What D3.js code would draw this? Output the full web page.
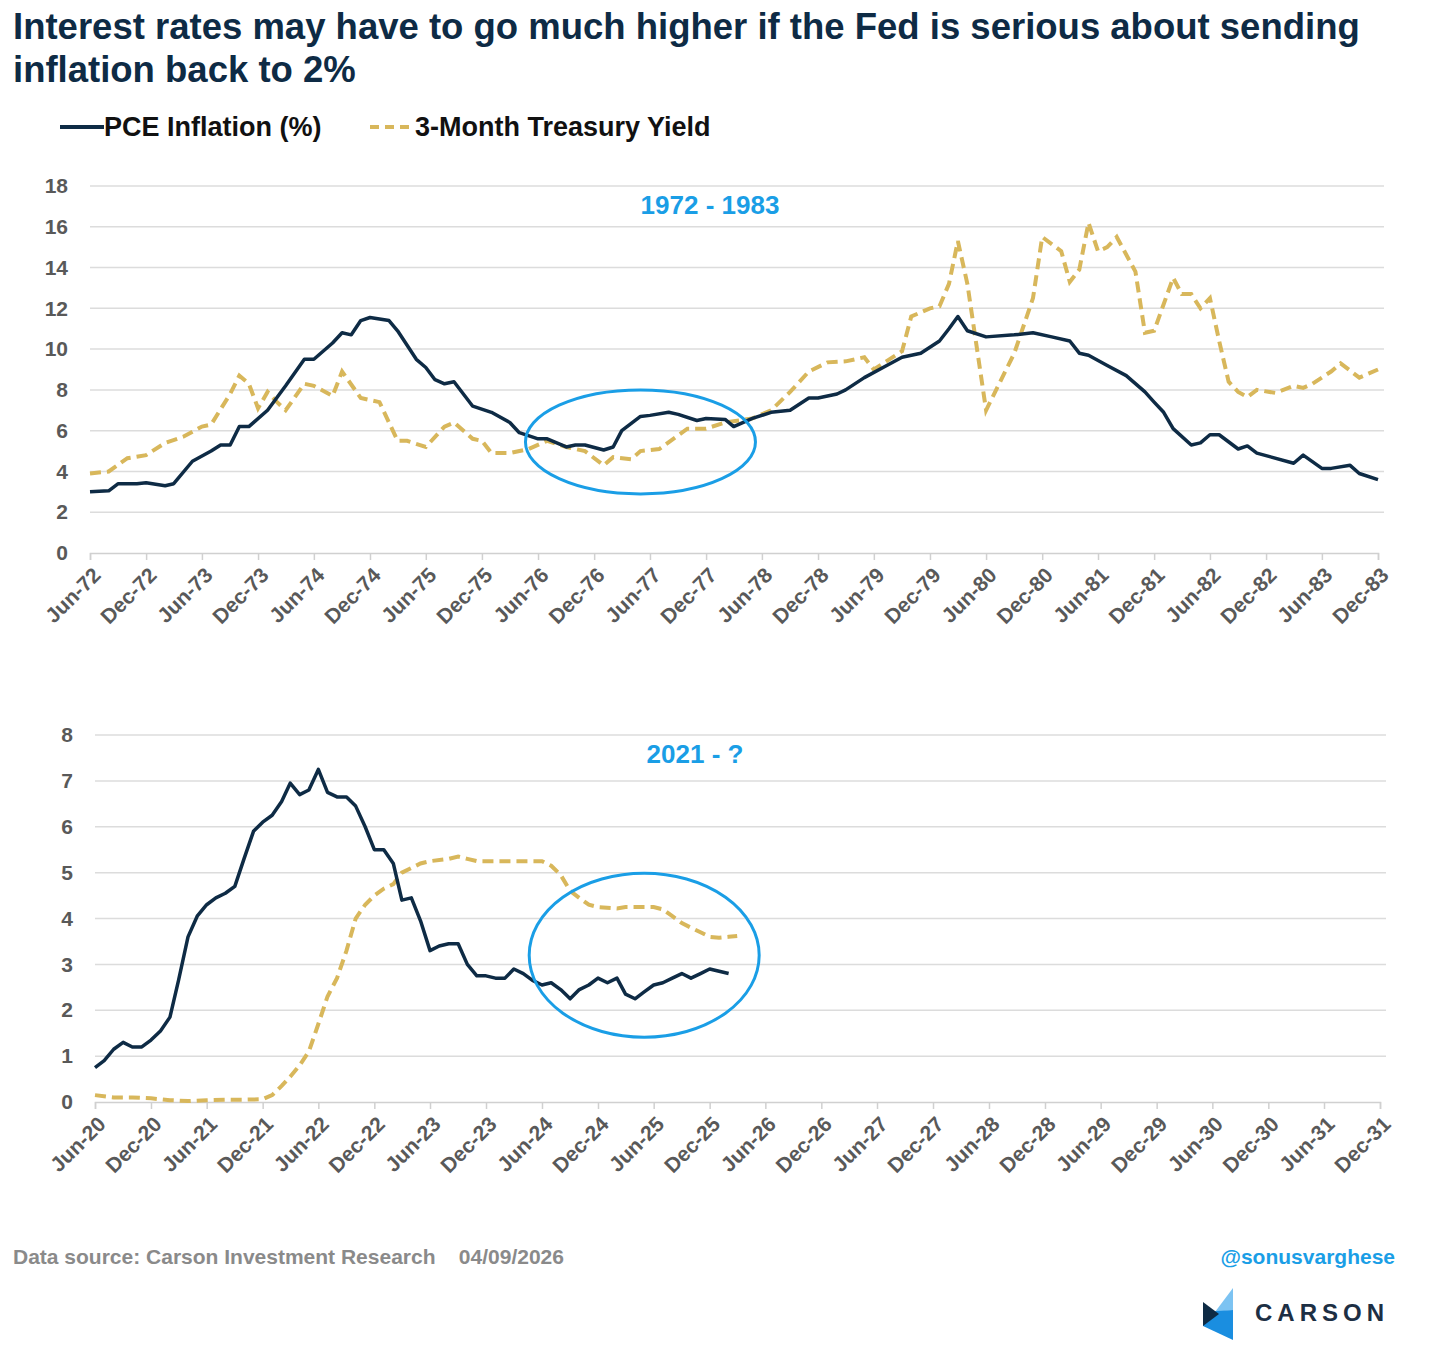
<!DOCTYPE html>
<html lang="en">
<head>
<meta charset="UTF-8">
<title>rates</title>
<style>
  body { margin: 0; background: #fff; font-family: Arial, "Liberation Sans", sans-serif; }
  .tick text { font-size: 21px; font-weight: bold; fill: #595959; }
  .grid line { stroke: #dcdcdc; stroke-width: 1.5; }
</style>
</head>
<body>
<svg id="chart" width="1430" height="1371"></svg>
<script src="https://d3js.org/d3.v7.min.js"></script>
<script>
// ---- data: 1972-1983 ----
const pceTop = [
  ['1972-06',3.0],['1972-08',3.05],['1972-09',3.4],['1972-11',3.4],['1972-12',3.45],['1973-02',3.3],['1973-03',3.4],
  ['1973-05',4.5],['1973-07',5.0],['1973-08',5.3],['1973-09',5.3],['1973-10',6.2],['1973-11',6.2],['1974-01',7.0],
  ['1974-03',8.2],['1974-05',9.5],['1974-06',9.5],['1974-08',10.3],['1974-09',10.8],['1974-10',10.7],['1974-11',11.4],
  ['1974-12',11.55],['1975-02',11.4],['1975-03',10.9],['1975-05',9.5],['1975-06',9.1],['1975-07',8.5],['1975-08',8.3],
  ['1975-09',8.4],['1975-11',7.2],['1976-01',6.9],['1976-03',6.4],['1976-04',5.9],['1976-06',5.6],['1976-07',5.6],
  ['1976-09',5.2],['1976-10',5.3],['1976-11',5.3],['1977-01',5.05],['1977-02',5.2],['1977-03',6.0],['1977-05',6.7],
  ['1977-06',6.75],['1977-08',6.9],['1977-09',6.8],['1977-11',6.5],['1977-12',6.6],['1978-02',6.55],['1978-03',6.2],
  ['1978-05',6.6],['1978-07',6.9],['1978-09',7.0],['1978-11',7.6],['1978-12',7.6],['1979-02',7.8],['1979-03',8.0],
  ['1979-05',8.6],['1979-07',9.1],['1979-09',9.6],['1979-11',9.8],['1980-01',10.4],['1980-02',11.0],['1980-03',11.6],
  ['1980-04',10.9],['1980-06',10.6],['1980-09',10.7],['1980-11',10.8],['1981-01',10.6],['1981-03',10.4],['1981-04',9.8],
  ['1981-05',9.7],['1981-07',9.2],['1981-09',8.7],['1981-11',7.9],['1981-12',7.4],['1982-01',6.9],['1982-02',6.1],
  ['1982-04',5.3],['1982-05',5.4],['1982-06',5.8],['1982-07',5.8],['1982-09',5.1],['1982-10',5.25],['1982-11',4.9],
  ['1983-03',4.4],['1983-04',4.8],['1983-06',4.15],['1983-07',4.15],['1983-09',4.3],['1983-10',3.9],['1983-12',3.6]
];
const tbillTop = [
  ['1972-06',3.9],['1972-08',4.0],['1972-10',4.65],['1972-12',4.8],['1973-02',5.4],['1973-04',5.7],['1973-06',6.2],
  ['1973-07',6.3],['1973-09',7.8],['1973-10',8.7],['1973-11',8.3],['1973-12',7.1],['1974-01',7.9],['1974-02',7.4],
  ['1974-03',7.0],['1974-05',8.3],['1974-06',8.2],['1974-08',7.7],['1974-09',8.9],['1974-11',7.6],['1975-01',7.4],
  ['1975-03',5.5],['1975-04',5.5],['1975-06',5.2],['1975-08',6.2],['1975-09',6.4],['1975-11',5.6],['1975-12',5.5],
  ['1976-01',4.9],['1976-03',4.9],['1976-05',5.1],['1976-07',5.5],['1976-09',5.2],['1976-11',5.0],['1977-01',4.3],
  ['1977-02',4.7],['1977-04',4.6],['1977-05',5.0],['1977-07',5.1],['1977-10',6.1],['1977-12',6.1],['1978-02',6.4],
  ['1978-05',6.6],['1978-07',7.0],['1978-09',7.9],['1978-11',8.9],['1979-01',9.35],['1979-03',9.4],['1979-05',9.6],
  ['1979-06',9.0],['1979-09',9.9],['1979-10',11.6],['1979-12',12.0],['1980-01',12.1],['1980-02',13.2],['1980-03',15.3],
  ['1980-04',13.2],['1980-06',7.0],['1980-09',9.8],['1980-11',12.5],['1980-12',15.5],['1981-02',14.8],['1981-03',13.3],
  ['1981-04',13.9],['1981-05',16.2],['1981-06',14.8],['1981-07',15.0],['1981-08',15.5],['1981-10',13.8],['1981-11',10.8],
  ['1981-12',10.9],['1982-02',13.5],['1982-03',12.7],['1982-04',12.7],['1982-05',12.0],['1982-06',12.5],['1982-07',10.4],
  ['1982-08',8.4],['1982-09',7.9],['1982-10',7.65],['1982-11',8.0],['1983-01',7.85],['1983-03',8.2],['1983-04',8.1],
  ['1983-05',8.3],['1983-07',8.9],['1983-08',9.3],['1983-10',8.6],['1983-12',9.0]
];
// ---- data: 2020-2026 ----
const pceBottom = [
  ['2020-06',0.75],['2020-07',0.9],['2020-08',1.15],['2020-09',1.3],['2020-10',1.2],['2020-11',1.2],['2020-12',1.35],
  ['2021-01',1.55],['2021-02',1.85],['2021-03',2.65],['2021-04',3.6],['2021-05',4.05],['2021-06',4.3],['2021-07',4.45],
  ['2021-08',4.55],['2021-09',4.7],['2021-10',5.3],['2021-11',5.9],['2021-12',6.1],['2022-01',6.25],['2022-02',6.55],
  ['2022-03',6.95],['2022-04',6.7],['2022-05',6.8],['2022-06',7.25],['2022-07',6.75],['2022-08',6.65],['2022-09',6.65],
  ['2022-10',6.45],['2022-11',6.0],['2022-12',5.5],['2023-01',5.5],['2023-02',5.2],['2023-03',4.4],['2023-04',4.45],
  ['2023-05',3.95],['2023-06',3.3],['2023-07',3.4],['2023-08',3.45],['2023-09',3.45],['2023-10',3.0],['2023-11',2.75],
  ['2023-12',2.75],['2024-01',2.7],['2024-02',2.7],['2024-03',2.9],['2024-04',2.8],['2024-05',2.65],['2024-06',2.55],
  ['2024-07',2.6],['2024-08',2.45],['2024-09',2.25],['2024-10',2.45],['2024-11',2.55],['2024-12',2.7],['2025-01',2.6],
  ['2025-02',2.7],['2025-03',2.35],['2025-04',2.25],['2025-05',2.4],['2025-06',2.55],['2025-07',2.6],['2025-08',2.7],
  ['2025-09',2.8],['2025-10',2.7],['2025-11',2.8],['2025-12',2.9],['2026-01',2.85],['2026-02',2.8]
];
const tbillBottom = [
  ['2020-06',0.15],['2020-08',0.1],['2020-10',0.1],['2020-12',0.08],['2021-02',0.04],['2021-04',0.02],['2021-06',0.04],
  ['2021-08',0.05],['2021-10',0.05],['2021-12',0.06],['2022-01',0.15],['2022-02',0.35],['2022-03',0.55],['2022-04',0.8],
  ['2022-05',1.1],['2022-06',1.7],['2022-07',2.3],['2022-08',2.7],['2022-09',3.3],['2022-10',4.0],['2022-11',4.3],
  ['2022-12',4.5],['2023-01',4.65],['2023-02',4.75],['2023-03',5.0],['2023-04',5.1],['2023-05',5.2],['2023-06',5.25],
  ['2023-08',5.3],['2023-09',5.35],['2023-10',5.3],['2023-11',5.25],['2024-01',5.25],['2024-03',5.25],['2024-06',5.25],
  ['2024-07',5.15],['2024-08',4.95],['2024-09',4.6],['2024-10',4.45],['2024-11',4.3],['2024-12',4.25],['2025-02',4.22],
  ['2025-03',4.25],['2025-05',4.25],['2025-06',4.25],['2025-07',4.2],['2025-08',4.05],['2025-09',3.9],['2025-10',3.8],
  ['2025-11',3.7],['2025-12',3.6],['2026-01',3.58],['2026-02',3.6],['2026-03',3.62]
];
const topTicks = ['1972-06','1983-12'];
const bottomTicks = ['2020-06','2031-12'];
const topY = [0,2,4,6,8,10,12,14,16,18];
const bottomY = [0,1,2,3,4,5,6,7,8];

const parse = d3.timeParse('%Y-%m');
const fmt = d3.timeFormat('%b-%y');
const navy = '#0e2b45', gold = '#d8b75b', blue = '#1a9ee6';

const svg = d3.select('#chart');

svg.append('text').attr('x', 13).attr('y', 39)
  .attr('font-size', 36.5).attr('font-weight', 'bold').attr('fill', '#0e2b45')
  .text('Interest rates may have to go much higher if the Fed is serious about sending');
svg.append('text').attr('x', 13).attr('y', 82)
  .attr('font-size', 36.5).attr('font-weight', 'bold').attr('fill', '#0e2b45')
  .text('inflation back to 2%');

// legend
const lg = svg.append('g').attr('transform', 'translate(60,127)');
lg.append('line').attr('x1', 0).attr('x2', 44).attr('y1', 0).attr('y2', 0)
  .attr('stroke', navy).attr('stroke-width', 4);
lg.append('text').attr('x', 44).attr('y', 9).attr('font-size', 27).attr('font-weight', 'bold')
  .attr('fill', '#111').text('PCE Inflation (%)');
lg.append('line').attr('x1', 310).attr('x2', 355).attr('y1', 0).attr('y2', 0)
  .attr('stroke', gold).attr('stroke-width', 4).attr('stroke-dasharray', '9,6');
lg.append('text').attr('x', 355).attr('y', 9).attr('font-size', 27).attr('font-weight', 'bold')
  .attr('fill', '#111').text('3-Month Treasury Yield');

function panel(cfg) {
  const [t0, t1] = cfg.range.map(parse);
  const x = d3.scaleTime().domain([t0, t1]).range([cfg.x0, cfg.x1]);
  const y = d3.scaleLinear().domain([0, d3.max(cfg.yTicks)]).range([cfg.yb, cfg.yt]);
  const g = svg.append('g');

  g.append('g').attr('class', 'grid')
    .selectAll('line').data(cfg.yTicks.slice(1)).join('line')
    .attr('x1', cfg.x0).attr('x2', cfg.x1 + 6)
    .attr('y1', d => y(d)).attr('y2', d => y(d));

  const ya = g.append('g').attr('transform', `translate(${cfg.x0 - 20},0)`)
    .call(d3.axisLeft(y).tickValues(cfg.yTicks).tickSize(0).tickPadding(2));
  ya.select('.domain').remove();

  const ticks = d3.timeMonth.range(t0, d3.timeMonth.offset(t1, 1), 6);
  const xa = g.append('g').attr('transform', `translate(0,${cfg.yb})`)
    .call(d3.axisBottom(x).tickValues(ticks).tickFormat(fmt).tickSize(7));
  xa.select('.domain').attr('stroke', '#d0d0d0').attr('stroke-width', 1.5);
  xa.selectAll('.tick line').attr('stroke', '#d0d0d0').attr('stroke-width', 1.5);
  xa.selectAll('.tick text').attr('text-anchor', 'end')
    .attr('transform', 'translate(-6,6) rotate(-45)').attr('dy', '0.7em');

  const line = d3.line().x(d => x(parse(d[0]))).y(d => y(d[1]));
  g.append('path').datum(cfg.tbill).attr('d', line).attr('fill', 'none')
    .attr('stroke', gold).attr('stroke-width', 4).attr('stroke-dasharray', '11,6');
  g.append('path').datum(cfg.pce).attr('d', line).attr('fill', 'none')
    .attr('stroke', navy).attr('stroke-width', 3.5).attr('stroke-linejoin', 'round');

  g.append('text').attr('x', cfg.labelX).attr('y', cfg.yt + 28).attr('text-anchor', 'middle')
    .attr('font-size', 26).attr('font-weight', 'bold').attr('fill', blue).text(cfg.label);

  g.append('ellipse').attr('cx', x(parse(cfg.ell[0]))).attr('cy', y(cfg.ell[1]))
    .attr('rx', cfg.ell[2]).attr('ry', cfg.ell[3])
    .attr('fill', 'none').attr('stroke', blue).attr('stroke-width', 3);
}

panel({ range: topTicks, x0: 90, x1: 1378, yb: 553, yt: 186, yTicks: topY,
  pce: pceTop, tbill: tbillTop, label: '1972 - 1983', labelX: 710, ell: ['1977-05', 5.45, 115, 52] });
panel({ range: bottomTicks, x0: 95, x1: 1380, yb: 1102, yt: 735, yTicks: bottomY,
  pce: pceBottom, tbill: tbillBottom, label: '2021 - ?', labelX: 695, ell: ['2025-05', 3.2, 115, 82] });

// footer
svg.append('text').attr('x', 13).attr('y', 1264).attr('font-size', 21).attr('font-weight', 'bold')
  .attr('fill', '#8a8a8a').attr('xml:space', 'preserve')
  .text('Data source: Carson Investment Research    04/09/2026');
svg.append('text').attr('x', 1395).attr('y', 1264).attr('text-anchor', 'end').attr('font-size', 21)
  .attr('font-weight', 'bold').attr('fill', blue).text('@sonusvarghese');
const logo = svg.append('g').attr('transform', 'translate(1203,1288)');
logo.append('path').attr('d', 'M30,0 L30,22 L12,24 Z').attr('fill', '#7cc3f2');
logo.append('path').attr('d', 'M0,24 L30,22 L30,52 L0,38 Z').attr('fill', '#1a8ee0');
logo.append('path').attr('d', 'M0,14 L16,26 L0,38 Z').attr('fill', '#0e2b45');
logo.append('text').attr('x', 52).attr('y', 33).attr('font-size', 24).attr('font-weight', 'bold')
  .attr('letter-spacing', 5).attr('fill', '#1d2f44').text('CARSON');
</script>
</body>
</html>
